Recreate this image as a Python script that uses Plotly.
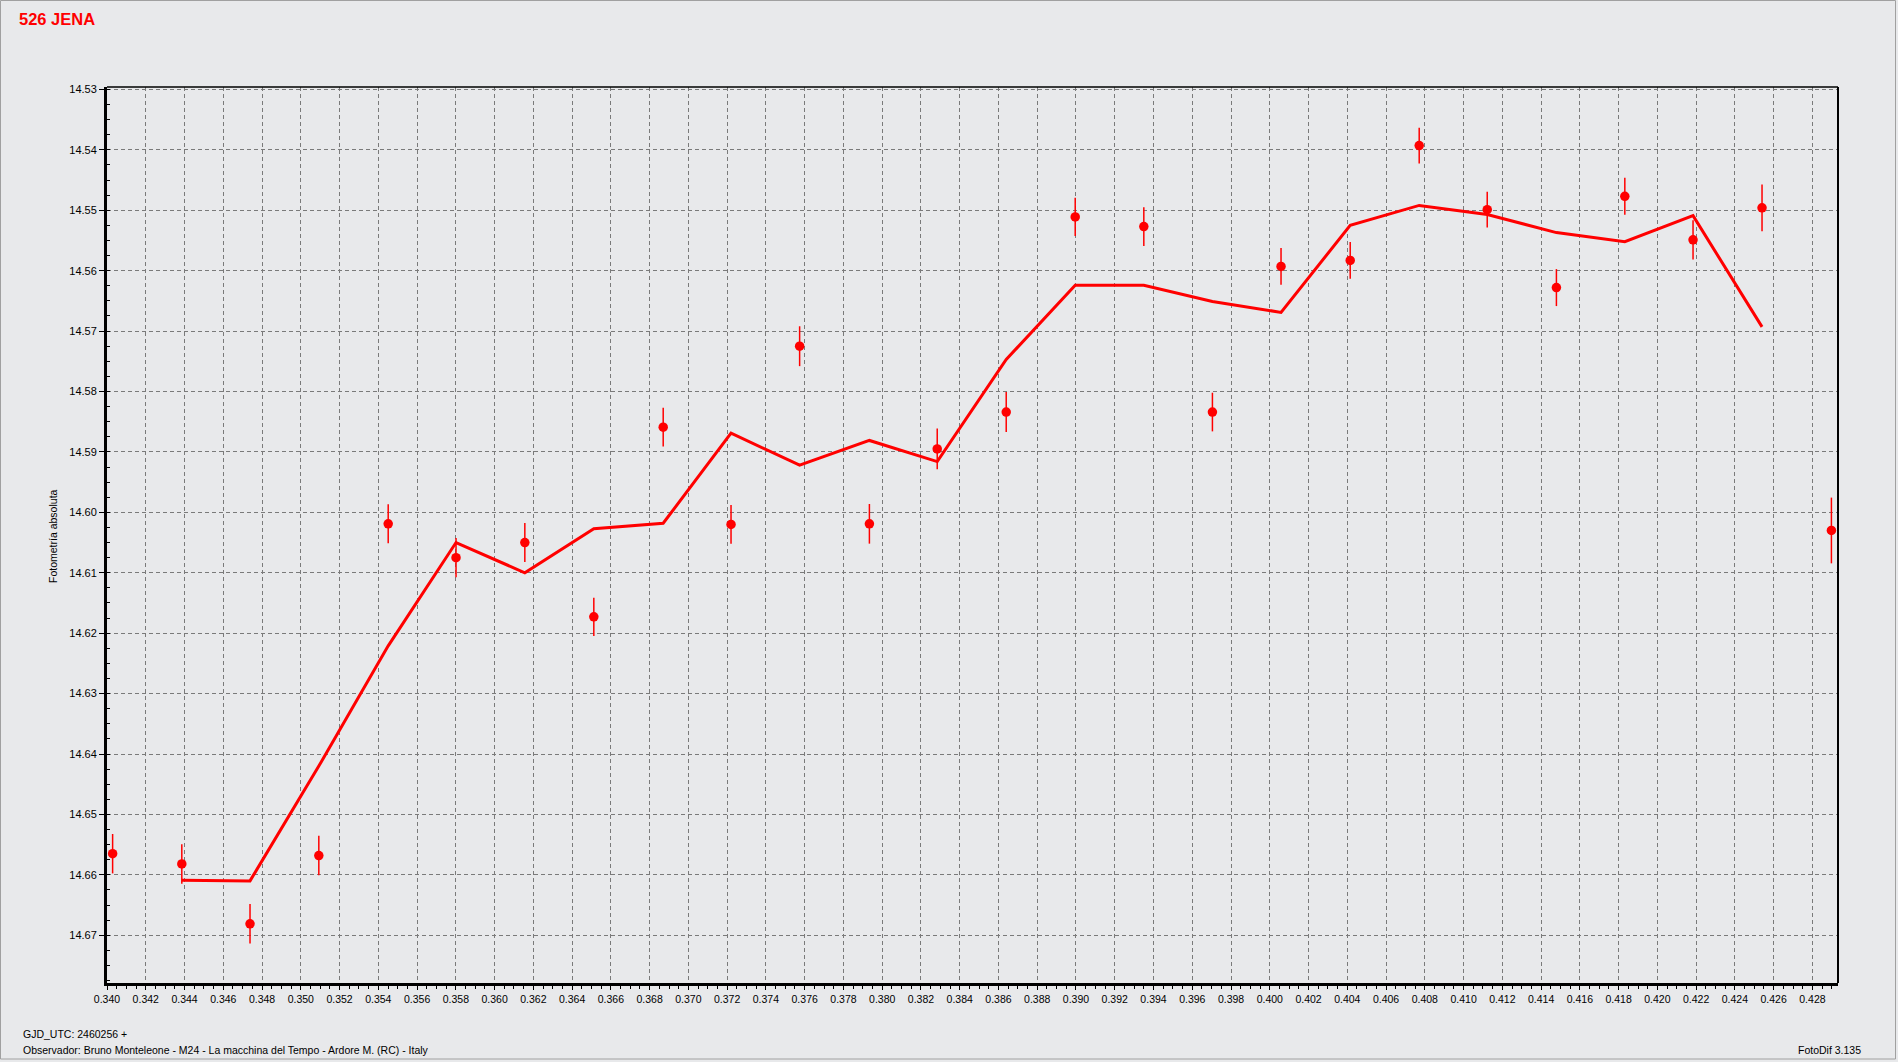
import plotly.graph_objects as go

# ---------------- data ----------------
# GJD_UTC fractional part (GJD_UTC = 2460256 + value)
gjd = [0.34029, 0.34386, 0.34738, 0.35093, 0.35451, 0.35801, 0.36156, 0.36512,
       0.36870, 0.37220, 0.37574, 0.37934, 0.38284, 0.38640, 0.38996, 0.39350,
       0.39704, 0.40058, 0.40415, 0.40771, 0.41122, 0.41479, 0.41832, 0.42184,
       0.42540, 0.42898]
# absolute photometry (magnitude)
mag = [14.6565, 14.6582, 14.6681, 14.6568, 14.6019, 14.6075, 14.6050, 14.6173,
       14.5859, 14.6020, 14.5725, 14.6019, 14.5895, 14.5834, 14.5511, 14.5527,
       14.5834, 14.5593, 14.5583, 14.5393, 14.5499, 14.5628, 14.5477, 14.5549,
       14.5496, 14.6030]
# error bar half-lengths (magnitude)
err = [0.00326, 0.00326, 0.00328, 0.00328, 0.00323, 0.00326, 0.00323, 0.00317,
       0.00320, 0.00320, 0.00330, 0.00328, 0.00337, 0.00330, 0.00315, 0.00320,
       0.00320, 0.00304, 0.00304, 0.00295, 0.00295, 0.00306, 0.00306, 0.00326,
       0.00386, 0.00544]
# trend line vertices (read values), placed at points 2..25
trend_mag = [14.6609, 14.6610, 14.6420, 14.6221, 14.6050, 14.6100, 14.6027,
             14.6018, 14.5869, 14.5922, 14.5881, 14.5916, 14.5747, 14.5624,
             14.5624, 14.5651, 14.5669, 14.5525, 14.5492, 14.5507, 14.5537,
             14.5552, 14.5509, 14.5693]
trend_gjd = gjd[1:25]

title_text = "526 JENA"
y_title = "Fotometría absoluta"
gjd_text = "GJD_UTC: 2460256 +"
observer_text = "Observador: Bruno Monteleone - M24 - La macchina del Tempo - Ardore M. (RC) - Italy"
software_text = "FotoDif 3.135"

# ---------------- layout geometry ----------------
W, H = 1898, 1062
L, R, T, B = 107, 60, 87, 79
PW, PH = W - L - R, H - T - B


def px_x(px):
    return (px - L) / PW


def px_y(py):
    return (H - B - py) / PH


RED = "#ff0000"
BG = "#e8e9eb"
FONT = "Liberation Sans"

fig = go.Figure()
fig.add_trace(go.Scatter(
    x=trend_gjd, y=trend_mag, mode="lines",
    line=dict(color=RED, width=3), hoverinfo="skip"))
fig.add_trace(go.Scatter(
    x=gjd, y=mag, mode="markers",
    marker=dict(size=9.5, color=RED, line=dict(width=0)),
    error_y=dict(type="data", array=err, visible=True, color=RED,
                 thickness=1.5, width=0)))

fig.update_layout(
    width=W, height=H,
    margin=dict(l=L, r=R, t=T, b=B, autoexpand=False),
    paper_bgcolor=BG, plot_bgcolor=BG,
    showlegend=False,
    font=dict(family=FONT, size=11, color="black"),
)

fig.update_xaxes(
    range=[0.340, 0.42932], tick0=0.340, dtick=0.002, tickformat=".3f",
    ticks="outside", ticklen=4, tickcolor="black", tickwidth=1,
    showline=True, linewidth=3, linecolor="black",
    showgrid=True, gridcolor="#7a7a7a", gridwidth=1, griddash="4px,3px",
    zeroline=False, tickfont=dict(family=FONT, size=10.5, color="black"),
    minor=dict(dtick=0.0005, ticks="outside", ticklen=3, tickcolor="black",
               showgrid=False),
)
fig.update_yaxes(
    range=[14.6779, 14.5296], tick0=14.53, dtick=0.01, tickformat=".2f",
    ticks="outside", ticklen=5, tickcolor="black", tickwidth=1,
    showline=True, linewidth=3, linecolor="black",
    showgrid=True, gridcolor="#7a7a7a", gridwidth=1, griddash="4px,3px",
    zeroline=False, tickfont=dict(family=FONT, size=11, color="black"),
    minor=dict(dtick=0.0025, ticks="inside", ticklen=3, tickcolor="black",
               showgrid=False),
)

shapes = [
    # top and right plot frame (thinner than the axes)
    dict(type="line", xref="paper", yref="paper", x0=0, x1=1, y0=1, y1=1,
         line=dict(color="black", width=1.5)),
    dict(type="line", xref="paper", yref="paper", x0=1, x1=1, y0=0, y1=1,
         line=dict(color="black", width=2)),
    # outer window border
    dict(type="rect", xref="paper", yref="paper",
         x0=px_x(0.5), x1=px_x(1895.5), y0=px_y(1059), y1=px_y(0.5),
         line=dict(color="#a0a0a0", width=1)),
]
fig.update_layout(shapes=shapes)

annotations = [
    dict(text="<b>" + title_text + "</b>", x=px_x(17), y=px_y(19),
         xanchor="left", yanchor="middle",
         font=dict(family=FONT, size=16.5, color=RED)),
    dict(text=y_title, x=px_x(53), y=px_y(536), textangle=-90,
         xanchor="center", yanchor="middle",
         font=dict(family=FONT, size=10.5, color="black")),
    dict(text=gjd_text, x=px_x(21), y=px_y(1034),
         xanchor="left", yanchor="middle",
         font=dict(family=FONT, size=10.5, color="black")),
    dict(text=observer_text, x=px_x(21), y=px_y(1050),
         xanchor="left", yanchor="middle",
         font=dict(family=FONT, size=10.5, color="black")),
    dict(text=software_text, x=px_x(1863), y=px_y(1050),
         xanchor="right", yanchor="middle",
         font=dict(family=FONT, size=10.5, color="black")),
]
for a in annotations:
    a.update(xref="paper", yref="paper", showarrow=False)
fig.update_layout(annotations=annotations)

fig.write_html("out.html", config={"displayModeBar": False},
               post_script="document.body.style.margin='0';")
